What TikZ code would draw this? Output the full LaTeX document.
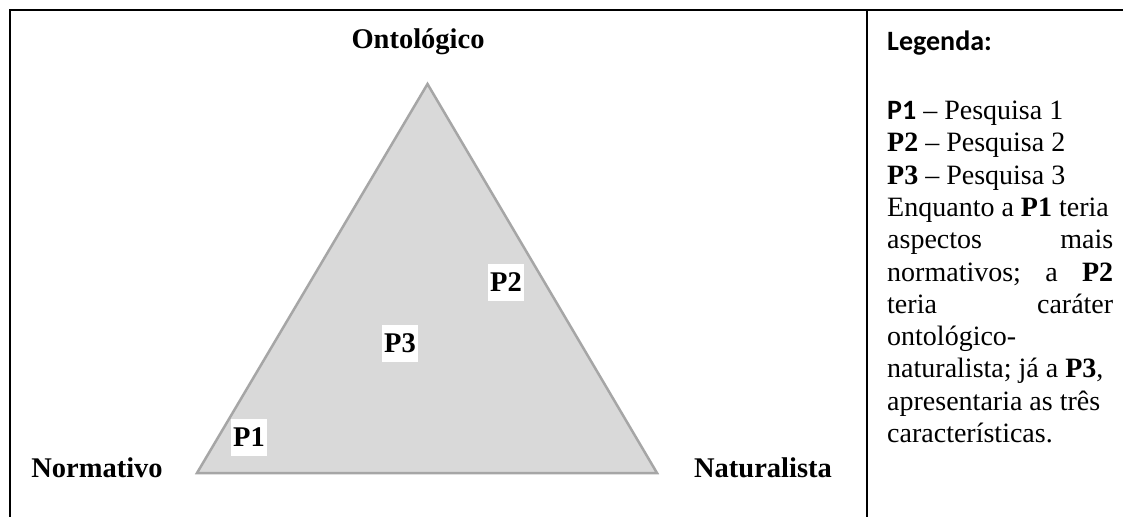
\documentclass[tikz,border=0pt]{standalone}
\usepackage{fontspec}
\setmainfont{Liberation Serif}
\newfontfamily\calib{Carlito}
\definecolor{trifill}{HTML}{D9D9D9}
\definecolor{tridraw}{HTML}{A6A6A6}
\begin{document}
\begin{tikzpicture}[x=1pt,y=-1pt,
  frame/.style={line width=2pt,black},
  tri/.style={fill=trifill,draw=tridraw,line width=2.5pt,line join=miter},
  lbl/.style={anchor=base,inner sep=0pt,font=\bfseries\fontsize{28.5}{32}\selectfont},
  pbox/.style={fill=white,inner sep=0pt,minimum width=36pt,minimum height=37pt,font=\bfseries\fontsize{28.5}{32}\selectfont},
  leg/.style={anchor=base west,inner sep=0pt,font=\fontsize{28}{32}\selectfont}]
\useasboundingbox (0,0) rectangle (1123,517);
\fill[white] (0,0) rectangle (1123,517);
% frame
\coordinate (tr) at (1123,10);
\coordinate (tl) at (10,10);
\coordinate (bl) at (10,517);
\coordinate (dt) at (867,10);
\coordinate (db) at (867,517);
\draw[frame] (tr) -- (tl) -- (bl);
\draw[frame] (dt) -- (db);
% triangle
\coordinate (A) at (427.5,84);
\coordinate (B) at (197,473);
\coordinate (C) at (657,473);
\draw[tri] (A) -- (B) -- (C) -- cycle;
% vertex labels
\node[lbl] (onto) at (418,48) {Ontológico};
\node[lbl] (norm) at (97,477) {Normativo};
\node[lbl] (natu) at (763,477) {Naturalista};
% points
\node[pbox] (p1) at (249,437.5) {P1};
\node[pbox] (p2) at (506,282.5) {P2};
\node[pbox] (p3) at (400,343.5) {P3};
% legend
\node[leg,font=\calib\bfseries\fontsize{28}{32}\selectfont] (lg) at (887,50) {Legenda:};
\node[leg] (l1) at (887,119.5) {{\calib\bfseries P1} – Pesquisa 1};
\node[leg] (l2) at (887,151.8) {\textbf{P2} – Pesquisa 2};
\node[leg] (l3) at (887,184.1) {\textbf{P3} – Pesquisa 3};
\node[leg] (l4) at (887,216.4) {Enquanto a \textbf{P1} teria};
\node[leg] (l5) at (887,248.7) {\hbox to 226pt{aspectos\hfill mais}};
\node[leg] (l6) at (887,281.0) {\hbox to 226pt{normativos;\hfill a\hfill \textbf{P2}}};
\node[leg] (l7) at (887,313.3) {\hbox to 226pt{teria\hfill caráter}};
\node[leg] (l8) at (887,345.6) {ontológico-};
\node[leg] (l9) at (887,377.9) {naturalista; já a \textbf{P3},};
\node[leg] (l10) at (887,410.2) {apresentaria as três};
\node[leg] (l11) at (887,442.5) {características.};
\end{tikzpicture}
\end{document}
